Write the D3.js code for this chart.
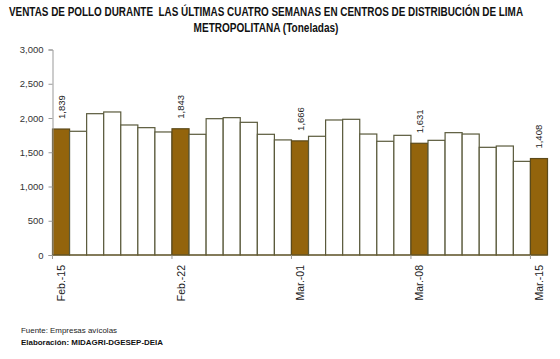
<!DOCTYPE html>
<html><head><meta charset="utf-8">
<script src="https://cdn.jsdelivr.net/npm/d3@7"></script>
<style>body{margin:0;background:#fff}svg{display:block}</style>
</head><body>
<svg id="c" width="560" height="359"></svg>
<script>
const categories = ["Feb.-15","Feb.-16","Feb.-17","Feb.-18","Feb.-19","Feb.-20","Feb.-21",
  "Feb.-22","Feb.-23","Feb.-24","Feb.-25","Feb.-26","Feb.-27","Feb.-28",
  "Mar.-01","Mar.-02","Mar.-03","Mar.-04","Mar.-05","Mar.-06","Mar.-07",
  "Mar.-08","Mar.-09","Mar.-10","Mar.-11","Mar.-12","Mar.-13","Mar.-14","Mar.-15"];
const values = [1839,1806,2063,2088,1898,1859,1796,
  1843,1762,1990,2005,1937,1762,1680,
  1666,1733,1971,1981,1766,1660,1747,
  1631,1674,1786,1766,1572,1591,1367,1408];
const highlighted = ["Feb.-15","Feb.-22","Mar.-01","Mar.-08","Mar.-15"];
const yTicks = [0,500,1000,1500,2000,2500,3000];
const titleLines = ["VENTAS DE POLLO DURANTE  LAS ÚLTIMAS CUATRO SEMANAS EN CENTROS DE DISTRIBUCIÓN DE LIMA",
  "METROPOLITANA (Toneladas)"];
const footer = ["Fuente: Empresas avícolas","Elaboración: MIDAGRI-DGESEP-DEIA"];

const svg = d3.select("#c");
const x = d3.scaleBand().domain(categories).range([52.5, 547.5]).padding(0);
const y = d3.scaleLinear().domain([0,3000]).range([255, 49.5]);
const fmt = d3.format(",");
const brown = "#93640c";
const ff = "'Liberation Sans',Arial,sans-serif";

// title: measure and compress horizontally to the reference width
function fitText(txt, cx, cy, size, weight, targetW, fill) {
  const g = svg.append("g");
  const t = g.append("text").attr("text-anchor","middle").attr("font-family",ff)
    .attr("font-weight",weight).attr("font-size",size).attr("fill",fill)
    .style("white-space","pre").text(txt);
  const w = t.node().getComputedTextLength();
  const s = Math.min(1, targetW / w);
  g.attr("transform", `translate(${cx},${cy}) scale(${s},1)`);
  return g;
}
fitText(titleLines[0], 266, 16, 12.5, "bold", 515, "#111");
fitText(titleLines[1], 266, 32, 12.5, "bold", 145, "#111");

// bars
svg.append("g").selectAll("rect").data(categories).join("rect")
  .attr("x", d => x(d)).attr("width", x.bandwidth())
  .attr("y", (d,i) => y(values[i])).attr("height", (d,i) => y(0) - y(values[i]))
  .attr("fill", d => highlighted.includes(d) ? brown : "#fff")
  .attr("stroke", d => highlighted.includes(d) ? "#5c4a1a" : "#5a5a3c")
  .attr("stroke-width", 1.2);

// value labels
svg.append("g").selectAll("text").data(categories.filter(d => highlighted.includes(d))).join("text")
  .attr("transform", d => {
    const i = categories.indexOf(d);
    return `translate(${x(d)+x.bandwidth()/2+3.5},${y(values[i])-10}) rotate(-90)`;
  })
  .attr("font-family",ff).attr("font-size",9.5).attr("fill","#222")
  .text(d => fmt(values[categories.indexOf(d)]));

// y axis
const ya = svg.append("g").attr("transform","translate(52.5,0)")
  .call(d3.axisLeft(y).tickValues(yTicks).tickSize(4).tickPadding(5).tickFormat(fmt));
ya.select(".domain").attr("stroke","#999");
ya.selectAll(".tick line").attr("stroke","#999");
ya.selectAll("text").attr("font-family",ff).attr("font-size",9.5).attr("fill","#333");

// x axis
const xa = svg.append("g").attr("transform","translate(0,255)");
xa.append("line").attr("x1",52.5).attr("x2",547.5).attr("y1",0).attr("y2",0).attr("stroke","#6b5a2a").attr("stroke-width",1.2);
xa.selectAll("line.t").data(highlighted).join("line").attr("class","t")
  .attr("x1", d => x(d)).attr("x2", d => x(d)).attr("y1",0).attr("y2",4).attr("stroke","#999");
xa.selectAll("text").data(highlighted).join("text")
  .attr("transform", d => `translate(${x(d)+x.bandwidth()/2+4},10) rotate(-90)`)
  .attr("text-anchor","end")
  .attr("font-family",ff).attr("font-size",10.5).attr("fill","#222")
  .text(d => d);

// footer
svg.append("text").attr("x",21).attr("y",333).attr("font-family",ff)
  .attr("font-size",8).attr("fill","#222").attr("textLength",96).attr("lengthAdjust","spacingAndGlyphs").text(footer[0]);
svg.append("text").attr("x",21).attr("y",345).attr("font-family",ff)
  .attr("font-size",8).attr("font-weight","bold").attr("fill","#111").attr("textLength",142).attr("lengthAdjust","spacingAndGlyphs").text(footer[1]);
</script>
</body></html>
